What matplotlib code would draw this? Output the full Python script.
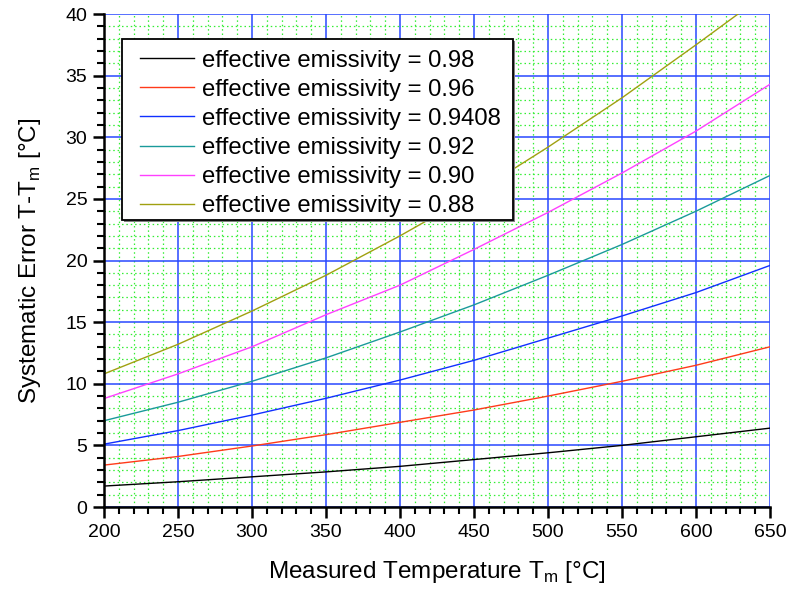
import matplotlib
matplotlib.use("Agg")
import matplotlib.pyplot as plt
from matplotlib.patches import Rectangle
from matplotlib.ticker import MultipleLocator

plt.rcParams['font.family'] = ['Liberation Sans', 'DejaVu Sans']
plt.rcParams['mathtext.fontset'] = 'custom'
plt.rcParams['mathtext.rm'] = 'Liberation Sans'

temps = [200, 250, 300, 350, 400, 450, 500, 550, 600, 650]
err_098 = [1.7, 2.05, 2.45, 2.85, 3.3, 3.85, 4.4, 5.0, 5.7, 6.4]
err_096 = [3.4, 4.1, 4.95, 5.87, 6.87, 7.87, 9.0, 10.2, 11.5, 13.0]
err_09408 = [5.1, 6.2, 7.46, 8.82, 10.3, 11.9, 13.7, 15.5, 17.4, 19.6]
err_092 = [7.0, 8.5, 10.2, 12.1, 14.2, 16.4, 18.8, 21.3, 24.0, 26.9]
err_090 = [8.8, 10.8, 13.0, 15.6, 18.0, 20.9, 23.9, 27.1, 30.5, 34.3]
err_088 = [10.8, 13.2, 15.9, 18.8, 22.0, 25.4, 29.2, 33.2, 37.5, 41.9]

labels = ["effective emissivity = 0.98", "effective emissivity = 0.96",
          "effective emissivity = 0.9408", "effective emissivity = 0.92",
          "effective emissivity = 0.90", "effective emissivity = 0.88"]
colors = ["#000000", "#ff3a1a", "#1030ff", "#1a9a9a", "#ff40ff", "#a0a010"]
series = [err_098, err_096, err_09408, err_092, err_090, err_088]

fig = plt.figure(figsize=(7.87, 5.91), dpi=100)
ax = fig.add_axes([0.1321, 0.1421, 0.8463, 0.8342])

for s, c, l in zip(series, colors, labels):
    ax.plot(temps, s, color=c, lw=1.0, label=l)

ax.set_xlim(200, 650)
ax.set_ylim(0, 40)
ax.xaxis.set_major_locator(MultipleLocator(50))
ax.xaxis.set_minor_locator(MultipleLocator(10))
ax.yaxis.set_major_locator(MultipleLocator(5))
ax.yaxis.set_minor_locator(MultipleLocator(1))
ax.grid(which='minor', color='#33ee33', linestyle=(0, (1.2, 2.3)), lw=0.9)
ax.grid(which='major', color='#2848ff', linestyle='-', lw=1.1)
ax.set_axisbelow(True)

for sp in ['top', 'right']:
    ax.spines[sp].set_visible(False)
for sp in ['left', 'bottom']:
    ax.spines[sp].set_linewidth(1.8)
ax.tick_params(which='major', direction='out', length=8, width=1.8, labelsize=14, pad=4)
ax.tick_params(which='minor', direction='out', length=5, width=1.5)

ax.set_xlabel(r'Measured Temperature T$_\mathregular{m}$ [°C]', fontsize=17.5, labelpad=13)
ax.set_ylabel(r'Systematic Error T-T$_\mathregular{m}$ [°C]', fontsize=17.5, labelpad=16)

# legend text/handles without frame; frame drawn separately with wider horizontal padding
leg = ax.legend(loc='upper left', bbox_to_anchor=(0.054, 0.928), fontsize=17.2,
                frameon=False, handlelength=2.25, labelspacing=0.3,
                borderpad=0.0, handletextpad=0.35, borderaxespad=0)
leg.set_zorder(6)
fig.canvas.draw()
bb = leg.get_window_extent()
pad_l, pad_r, pad_t, pad_b = 18, 12, 11, 3
x0, y0 = bb.x0 - pad_l, bb.y0 - pad_b
w, h = bb.width + pad_l + pad_r, bb.height + pad_t + pad_b
shadow = Rectangle((x0 + 2, y0 - 2), w, h, transform=None,
                   facecolor='#808080', edgecolor='none', zorder=5)
frame = Rectangle((x0, y0), w, h, transform=None,
                  facecolor='white', edgecolor='black', lw=1.3, zorder=5.5)
ax.add_patch(shadow)
ax.add_patch(frame)

fig.savefig('out.png', dpi=100)
